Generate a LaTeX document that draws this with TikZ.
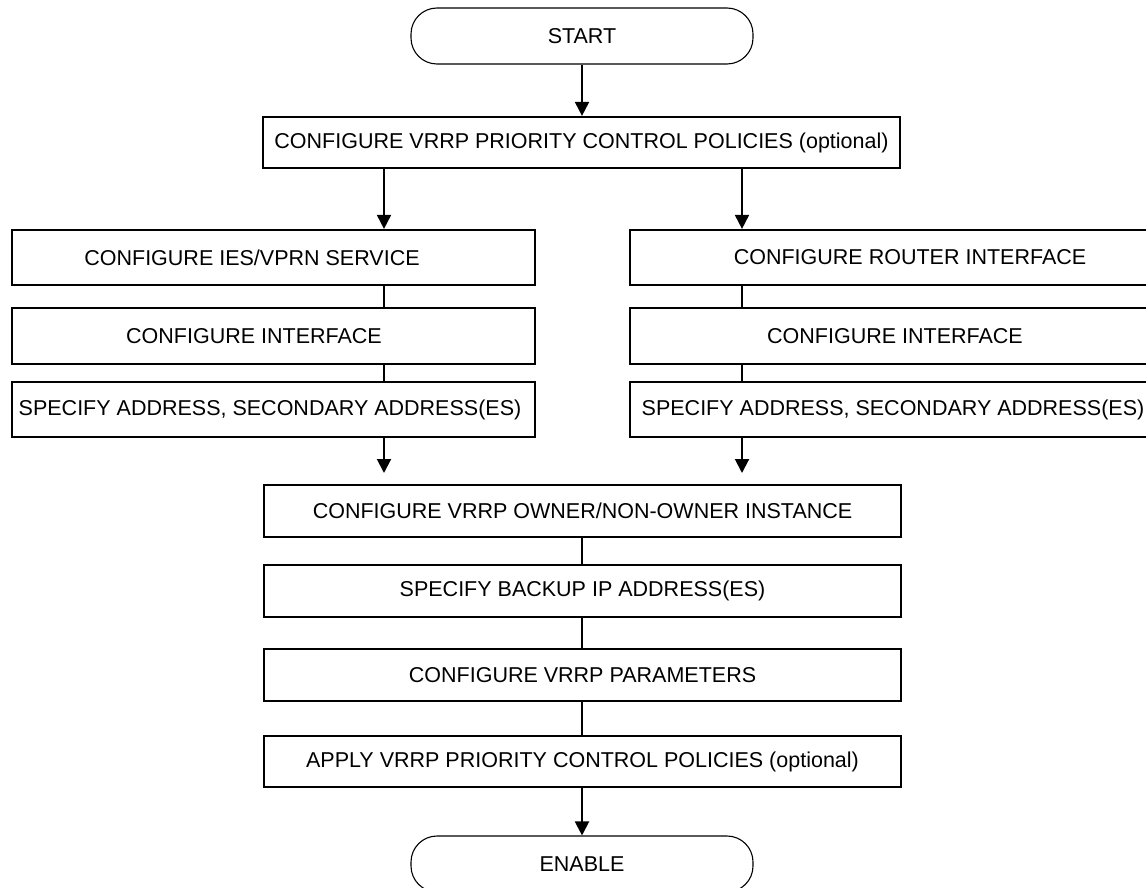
\documentclass[tikz,border=0pt]{standalone}
\usepackage{fontspec}
\setmainfont{Liberation Sans}
\usetikzlibrary{arrows.meta}
\begin{document}
\begin{tikzpicture}[x=1pt,y=-1pt,
  box/.style={draw, line width=2.2pt, inner sep=0pt, anchor=center},
  pill/.style={draw, line width=1.1pt, rounded corners=26pt, minimum width=342pt, minimum height=56pt, inner sep=0pt},
  txt/.style={inner sep=0pt, font=\fontsize{21.5}{25}\selectfont},
  conn/.style={line width=2pt},
  arr/.style={line width=2pt, -{Triangle[length=14pt,width=14pt]}},
  every node/.style={font=\fontsize{21.5}{25}\selectfont}]
\useasboundingbox (0,0) rectangle (1146,888);
\clip (0,0) rectangle (1146,888);
% named x positions
\coordinate (lx) at (384,0);
\coordinate (rx) at (742,0);
\coordinate (la) at (384,473);
\coordinate (ra) at (742,473);
% pills
\node[pill] (start) at (582,36) {START};
\node[pill] (enable) at (582,864) {ENABLE};
% top box
\node[box, minimum width=637pt, minimum height=51pt] (p1) at (581.5,142.5) {CONFIGURE VRRP PRIORITY CONTROL POLICIES (optional)};
% left column
\node[box, minimum width=523pt, minimum height=55pt] (l1) at (273.5,257.5) {};
\node[txt] (l1t) at (252,257.5) {CONFIGURE IES/VPRN SERVICE};
\node[box, minimum width=523pt, minimum height=56pt] (l2) at (273.5,336) {};
\node[txt] (l2t) at (254,336) {CONFIGURE INTERFACE};
\node[box, minimum width=523pt, minimum height=55pt] (l3) at (273.5,409.5) {};
\node[txt] (l3t) at (270,409.5) {SPECIFY ADDRESS, SECONDARY ADDRESS(ES)};
% right column
\node[box, minimum width=530pt, minimum height=55pt] (r1) at (895,257.5) {};
\node[txt] (r1t) at (910,257.5) {CONFIGURE ROUTER INTERFACE};
\node[box, minimum width=530pt, minimum height=56pt] (r2) at (895,336) {};
\node[txt] (r2t) at (895,336) {CONFIGURE INTERFACE};
\node[box, minimum width=530pt, minimum height=55pt] (r3) at (895,409.5) {};
\node[txt] (r3t) at (893,409.5) {SPECIFY ADDRESS, SECONDARY ADDRESS(ES)};
% center column
\node[box, minimum width=637pt, minimum height=52pt] (c1) at (582.5,511) {CONFIGURE VRRP OWNER/NON-OWNER INSTANCE};
\node[box, minimum width=637pt, minimum height=52pt] (c2) at (582.5,591) {SPECIFY BACKUP IP ADDRESS(ES)};
\node[box, minimum width=637pt, minimum height=52pt] (c3) at (582.5,675) {CONFIGURE VRRP PARAMETERS};
\node[box, minimum width=637pt, minimum height=51pt] (c4) at (582.5,761.5) {APPLY VRRP PRIORITY CONTROL POLICIES (optional)};
% connectors
\draw[arr] (start.south) -- (start.south |- p1.north);
\draw[arr] (p1.south -| lx) -- (l1.north -| lx);
\draw[arr] (p1.south -| rx) -- (r1.north -| rx);
\draw[conn] (l1.south -| lx) -- (l2.north -| lx);
\draw[conn] (l2.south -| lx) -- (l3.north -| lx);
\draw[conn] (r1.south -| rx) -- (r2.north -| rx);
\draw[conn] (r2.south -| rx) -- (r3.north -| rx);
\draw[arr] (l3.south -| lx) -- (la);
\draw[arr] (r3.south -| rx) -- (ra);
\draw[conn] (c1.south -| start.south) -- (c2.north -| start.south);
\draw[conn] (c2.south -| start.south) -- (c3.north -| start.south);
\draw[conn] (c3.south -| start.south) -- (c4.north -| start.south);
\draw[arr] (c4.south -| start.south) -- (enable.north);
\end{tikzpicture}
\end{document}
